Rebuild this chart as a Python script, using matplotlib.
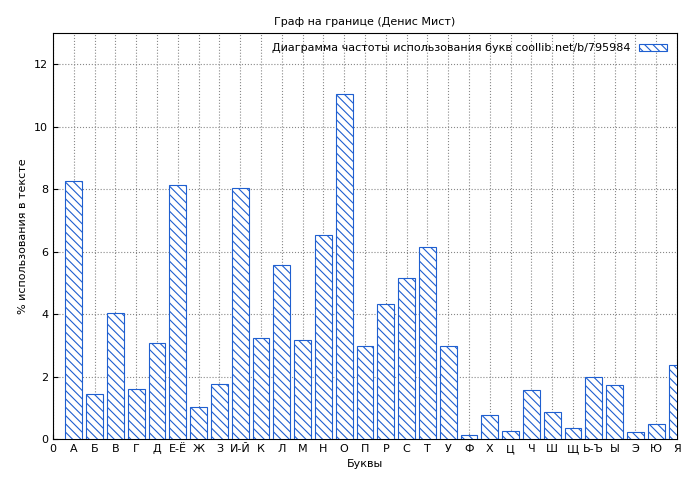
import matplotlib
matplotlib.use("Agg")
import matplotlib.pyplot as plt

letters = ["А","Б","В","Г","Д","Е-Ё","Ж","З","И-Й","К","Л","М","Н","О","П","Р","С","Т","У","Ф","Х","Ц","Ч","Ш","Щ","Ь-Ъ","Ы","Э","Ю","Я"]
values = [8.26,1.44,4.03,1.6,3.07,8.13,1.02,1.76,8.03,3.23,5.57,3.17,6.53,11.04,2.98,4.32,5.15,6.14,2.98,0.13,0.77,0.26,1.57,0.86,0.35,1.98,1.73,0.22,0.48,2.37]
yticks = [0,2,4,6,8,10,12]

plt.rcParams['hatch.color'] = '#1f5fd0'
plt.rcParams['hatch.linewidth'] = 0.8
fig = plt.figure(figsize=(7,4.8), dpi=100)
ax = fig.add_axes([53/700, 1-439/480, 624/700, 406/480])
x = list(range(1, len(letters)+1))
ax.bar(x, values, width=0.8, facecolor='white', edgecolor='#1f5fd0', hatch='\\\\\\\\', linewidth=0.8,
       label='Диаграмма частоты использования букв coollib.net/b/795984', zorder=3)
ax.set_xlim(0, 30)
ax.set_ylim(0, 13)
ax.set_xticks([0]+x)
ax.set_xticklabels(["0"]+letters, fontsize=8)
ax.set_yticks(yticks)
ax.tick_params(labelsize=8, direction='in')
ax.grid(True, linestyle=':', color='#888888', linewidth=0.8)
ax.set_xlabel('Буквы', fontsize=8)
ax.set_ylabel('% использования в тексте', fontsize=8)
ax.set_title('Граф на границе (Денис Мист)', fontsize=8)
leg = ax.legend(loc='upper right', fontsize=8, frameon=False, markerfirst=False, handlelength=2.5, handleheight=0.6)
fig.savefig('out.png', dpi=100)
